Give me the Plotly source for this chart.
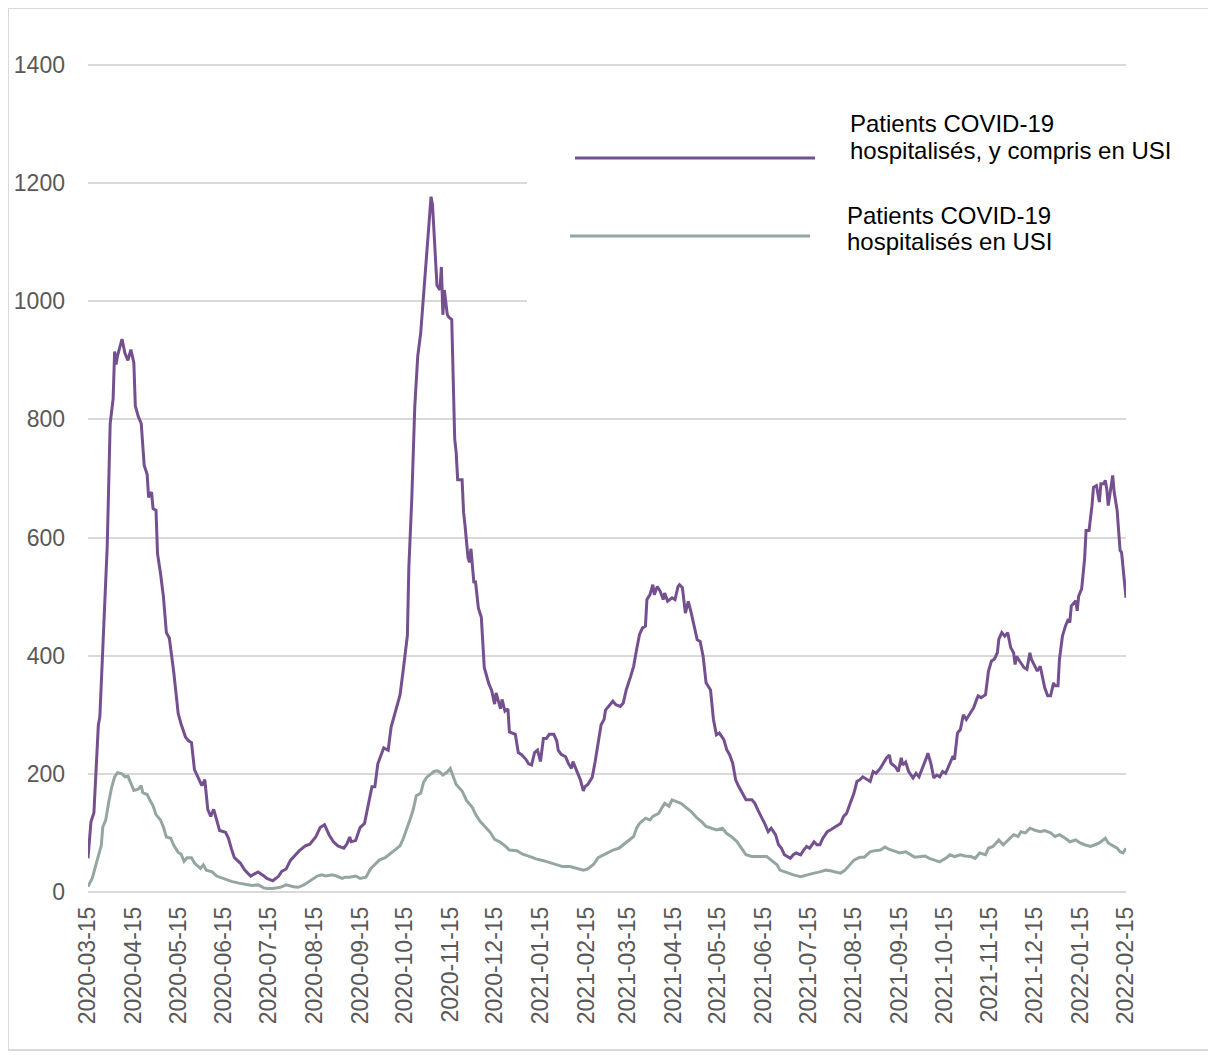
import datetime as dt
import plotly.graph_objects as go

START = dt.date(2020, 3, 15)

# (days since 2020-03-15, patients)
hospitalised_points = [
    (0, 57), (2, 119), (4, 134), (7, 283), (8, 296), (10, 402), (13, 585), (15, 793), (17, 835), (18, 915),
    (19, 893), (20, 908), (23, 936), (25, 912), (27, 900), (29, 918), (31, 896), (32, 823), (34, 805), (36, 793),
    (38, 722), (40, 707), (41, 668), (43, 677), (44, 649), (46, 646), (47, 573), (49, 540), (51, 500), (53, 439),
    (55, 430), (58, 372), (61, 302), (63, 284), (66, 262), (68, 256), (70, 253), (72, 207), (75, 189), (77, 180),
    (79, 190), (81, 140), (83, 128), (85, 140), (87, 122), (89, 104), (93, 101), (95, 91), (97, 73), (99, 58),
    (103, 49), (106, 37), (110, 27), (115, 34), (119, 27), (121, 23), (125, 19), (129, 27), (131, 35), (134, 39),
    (137, 54), (140, 62), (143, 70), (147, 78), (150, 81), (154, 93), (157, 109), (160, 114), (163, 97), (166, 85),
    (169, 78), (173, 74), (175, 81), (177, 93), (178, 85), (181, 87), (184, 109), (187, 116), (190, 151), (192, 178),
    (194, 178), (196, 217), (200, 244), (203, 240), (205, 279), (209, 318), (211, 333), (213, 372), (216, 434), (217, 550),
    (219, 667), (221, 822), (223, 907), (225, 946), (227, 1016), (229, 1078), (231, 1159), (232, 1177), (233, 1163), (234, 1116),
    (236, 1027), (238, 1019), (239, 1058), (240, 977), (241, 1019), (243, 977), (244, 973), (246, 969), (247, 868), (248, 767),
    (249, 744), (250, 698), (253, 698), (254, 643), (255, 620), (257, 566), (258, 558), (259, 581), (261, 523), (262, 527),
    (264, 481), (266, 465), (268, 380), (271, 353), (273, 341), (275, 318), (276, 337), (279, 310), (280, 326), (282, 306),
    (284, 310), (285, 271), (289, 267), (291, 236), (293, 233), (296, 225), (298, 217), (300, 215), (302, 236), (304, 240),
    (306, 221), (308, 260), (310, 260), (312, 267), (315, 267), (317, 256), (318, 240), (320, 233), (323, 229), (325, 217),
    (327, 209), (328, 221), (331, 202), (333, 190), (335, 171), (336, 178), (338, 182), (341, 194), (343, 221), (345, 256),
    (347, 283), (349, 292), (350, 308), (353, 317), (355, 323), (357, 317), (360, 314), (362, 320), (364, 342), (367, 365),
    (369, 382), (371, 410), (373, 436), (375, 447), (377, 450), (378, 495), (380, 503), (382, 520), (383, 503), (385, 517),
    (387, 509), (389, 495), (390, 506), (392, 492), (395, 498), (397, 495), (399, 517), (400, 520), (402, 515), (404, 472),
    (406, 492), (408, 472), (410, 447), (412, 427), (414, 424), (416, 399), (418, 354), (421, 342), (423, 292), (425, 266),
    (427, 269), (430, 258), (432, 241), (434, 232), (436, 218), (438, 190), (440, 179), (443, 164), (445, 156), (449, 156),
    (451, 150), (453, 139), (456, 125), (458, 114), (460, 102), (462, 108), (465, 97), (467, 80), (469, 74), (471, 63),
    (475, 57), (477, 63), (479, 66), (482, 63), (484, 71), (486, 77), (488, 74), (491, 85), (493, 80), (495, 80),
    (497, 91), (500, 102), (502, 105), (504, 108), (506, 111), (509, 116), (511, 128), (513, 133), (515, 147), (518, 167),
    (520, 187), (522, 190), (524, 195), (527, 190), (529, 187), (531, 204), (533, 201), (536, 210), (538, 218), (540, 227),
    (542, 232), (543, 218), (546, 212), (548, 204), (550, 227), (551, 215), (553, 220), (555, 204), (558, 193), (560, 201),
    (562, 195), (564, 207), (567, 227), (568, 235), (570, 218), (572, 193), (574, 198), (576, 195), (578, 204), (580, 201),
    (583, 218), (585, 230), (586, 224), (588, 269), (590, 275), (592, 300), (594, 292), (597, 303), (599, 312), (601, 326),
    (602, 332), (604, 329), (607, 334), (609, 374), (611, 391), (613, 394), (615, 405), (616, 428), (618, 439), (620, 433),
    (622, 439), (624, 414), (626, 405), (627, 385), (628, 399), (630, 391), (633, 380), (635, 377), (637, 405), (638, 394),
    (640, 385), (642, 374), (644, 382), (646, 360), (647, 346), (649, 332), (651, 332), (653, 354), (654, 349), (656, 349),
    (657, 394), (659, 433), (661, 450), (663, 462), (664, 456), (665, 484), (668, 493), (669, 476), (670, 501), (672, 513),
    (674, 564), (675, 612), (677, 612), (679, 654), (680, 685), (682, 688), (684, 660), (685, 691), (687, 691), (688, 697),
    (689, 682), (690, 654), (693, 705), (694, 677), (696, 646), (698, 578), (699, 575), (702, 498),
]

icu_points = [
    (0, 9), (3, 24), (5, 43), (7, 61), (9, 79), (10, 110), (12, 122), (14, 152), (16, 177), (18, 195),
    (20, 202), (23, 200), (25, 195), (27, 196), (29, 183), (31, 172), (34, 174), (36, 180), (37, 168), (40, 165),
    (42, 155), (44, 146), (46, 131), (49, 122), (51, 110), (53, 93), (56, 91), (58, 79), (61, 67), (63, 64),
    (65, 52), (67, 58), (70, 58), (72, 49), (76, 40), (78, 46), (80, 37), (84, 34), (87, 27), (90, 24),
    (94, 21), (97, 18), (102, 15), (106, 13), (111, 11), (115, 12), (119, 7), (121, 6), (125, 6), (130, 8),
    (134, 12), (139, 9), (142, 8), (146, 12), (150, 19), (155, 27), (158, 29), (161, 27), (165, 29), (168, 27),
    (172, 23), (174, 25), (177, 25), (181, 27), (184, 23), (188, 25), (191, 39), (194, 47), (197, 54), (201, 58),
    (204, 64), (208, 71), (211, 78), (213, 89), (216, 109), (218, 124), (220, 140), (222, 163), (225, 167), (227, 186),
    (229, 194), (231, 198), (234, 204), (236, 205), (238, 203), (240, 198), (243, 203), (245, 209), (247, 194), (249, 182),
    (253, 171), (256, 155), (260, 143), (262, 132), (265, 120), (268, 112), (272, 101), (275, 89), (279, 84), (282, 78),
    (285, 71), (290, 70), (294, 64), (299, 60), (303, 56), (308, 53), (312, 50), (317, 47), (321, 43), (326, 43),
    (330, 40), (335, 37), (338, 39), (342, 47), (345, 58), (349, 63), (352, 66), (355, 71), (359, 74), (362, 80),
    (365, 85), (369, 94), (371, 108), (373, 116), (377, 125), (380, 122), (382, 128), (386, 133), (388, 142), (390, 150),
    (393, 145), (395, 156), (398, 153), (401, 150), (405, 142), (408, 136), (412, 125), (415, 119), (418, 111), (422, 108),
    (425, 105), (429, 108), (432, 99), (435, 94), (439, 85), (442, 74), (445, 63), (449, 60), (454, 60), (459, 60),
    (462, 54), (466, 46), (468, 37), (473, 32), (477, 29), (482, 26), (486, 29), (491, 32), (495, 34), (499, 37),
    (502, 36), (505, 34), (509, 32), (512, 37), (515, 46), (518, 54), (522, 59), (525, 59), (529, 68), (532, 70),
    (536, 71), (539, 76), (542, 72), (545, 70), (549, 66), (553, 68), (556, 63), (559, 59), (563, 60), (566, 61),
    (569, 57), (573, 54), (576, 51), (580, 57), (583, 63), (586, 60), (590, 63), (593, 61), (597, 60), (600, 57),
    (603, 66), (607, 63), (609, 74), (612, 77), (616, 88), (619, 80), (622, 88), (626, 97), (629, 94), (631, 102),
    (634, 100), (637, 108), (640, 105), (644, 102), (647, 104), (651, 100), (654, 94), (657, 97), (661, 91), (664, 85),
    (668, 88), (671, 83), (674, 80), (678, 77), (681, 80), (684, 83), (688, 91), (690, 83), (692, 80), (696, 74),
    (698, 68), (700, 66), (702, 74),
]

month_ticks = [
    "2020-03-15", "2020-04-15", "2020-05-15", "2020-06-15", "2020-07-15", "2020-08-15",
    "2020-09-15", "2020-10-15", "2020-11-15", "2020-12-15", "2021-01-15", "2021-02-15",
    "2021-03-15", "2021-04-15", "2021-05-15", "2021-06-15", "2021-07-15", "2021-08-15",
    "2021-09-15", "2021-10-15", "2021-11-15", "2021-12-15", "2022-01-15", "2022-02-15",
]
y_ticks = [0, 200, 400, 600, 800, 1000, 1200, 1400]
Y_MAX = 1410

legend_lines = [
    ["Patients COVID-19", "hospitalisés, y compris en USI"],
    ["Patients COVID-19", "hospitalisés en USI"],
]
PURPLE = "#75508F"
GREY = "#95A6A0"
FONT = "Liberation Sans, Arial, sans-serif"


def to_xy(points):
    xs = [START + dt.timedelta(days=d) for d, _ in points]
    ys = [v for _, v in points]
    return xs, ys


fig = go.Figure()
hx, hy = to_xy(hospitalised_points)
ix, iy = to_xy(icu_points)
fig.add_trace(go.Scatter(x=hx, y=hy, mode="lines", line=dict(color=PURPLE, width=3),
                         name=" ".join(legend_lines[0]), showlegend=False))
fig.add_trace(go.Scatter(x=ix, y=iy, mode="lines", line=dict(color=GREY, width=3),
                         name=" ".join(legend_lines[1]), showlegend=False))

# page is offset by the 8px body margin, so figure coordinates = screen - 8
W, H = 1216, 1055
PLOT_L, PLOT_R, PLOT_B = 80, 1118, 884
PLOT_T = PLOT_B - 827 * Y_MAX / 1400.0
L, R, T, B = PLOT_L, W - PLOT_R, PLOT_T, H - PLOT_B
pw, ph = PLOT_R - PLOT_L, PLOT_B - PLOT_T


def px_x(px):
    return (px - PLOT_L) / pw


def px_y(py):
    return (PLOT_B - py) / ph


shapes = [
    # outer frame
    dict(type="rect", xref="paper", yref="paper", x0=px_x(0), x1=px_x(1230), y0=px_y(1042), y1=px_y(0),
         line=dict(color="#d9d9d9", width=2), fillcolor="rgba(0,0,0,0)", layer="below"),
    # legend background (hides gridlines behind it; no data passes through this area)
    dict(type="rect", xref="paper", yref="paper", x0=px_x(519), x1=px_x(1132), y0=px_y(327), y1=px_y(64),
         line=dict(width=0), fillcolor="white", layer="above"),
    # legend keys
    dict(type="line", xref="paper", yref="paper", x0=px_x(567), x1=px_x(807), y0=px_y(150), y1=px_y(150),
         line=dict(color=PURPLE, width=3), layer="above"),
    dict(type="line", xref="paper", yref="paper", x0=px_x(562), x1=px_x(802), y0=px_y(228), y1=px_y(228),
         line=dict(color=GREY, width=3), layer="above"),
]

legend_text_pos = [(840, [116, 143]), (837, [208, 234])]
annotations = []
for lines, (lx, ys) in zip(legend_lines, legend_text_pos):
    for txt, ly in zip(lines, ys):
        annotations.append(dict(
            xref="paper", yref="paper", x=px_x(lx), y=px_y(ly), xanchor="left", yanchor="middle",
            text=txt, showarrow=False, align="left",
            font=dict(family=FONT, size=24, color="#000000")))

fig.update_layout(
    width=W, height=H,
    margin=dict(l=L, r=R, t=T, b=B, pad=0, autoexpand=False),
    paper_bgcolor="white", plot_bgcolor="white",
    font=dict(family=FONT, color="#595959"),
    shapes=shapes, annotations=annotations,
    showlegend=False,
)
fig.update_xaxes(
    type="date",
    range=[month_ticks[0], month_ticks[-1]],
    tickmode="array", tickvals=month_ticks, ticktext=month_ticks,
    tickangle=-90, tickfont=dict(family=FONT, size=23, color="#595959"),
    showgrid=False, zeroline=False, showline=False, ticks="",
    ticklabelstandoff=9, automargin=False,
)
fig.update_yaxes(
    range=[0, Y_MAX],
    tickmode="array", tickvals=y_ticks,
    tickfont=dict(family=FONT, size=23, color="#595959"),
    showgrid=True, gridcolor="#d9d9d9", gridwidth=2,
    zeroline=True, zerolinecolor="#d9d9d9", zerolinewidth=2,
    showline=False, ticks="", ticklabelstandoff=22, automargin=False,
)

fig.write_html("out.html")
